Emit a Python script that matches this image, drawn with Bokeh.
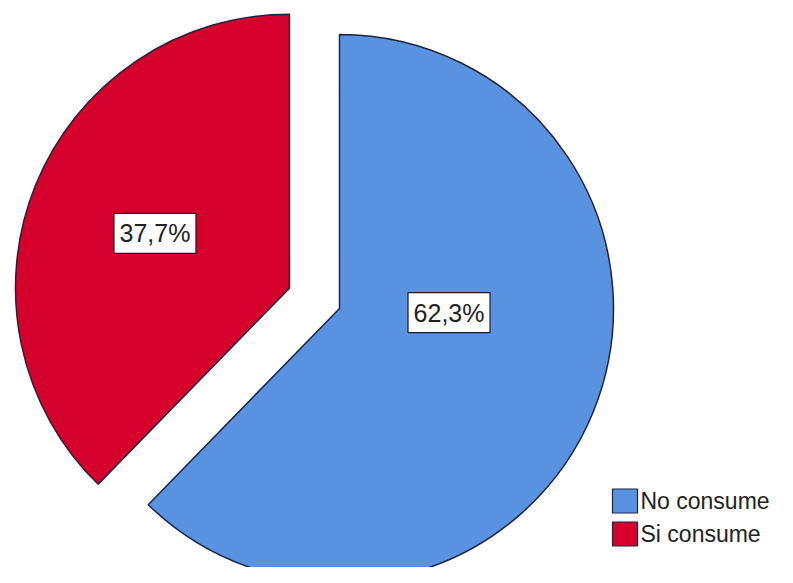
import numpy as np
from bokeh.plotting import figure
from bokeh.models import Range1d, ColumnDataSource
from bokeh.core.properties import value
from bokeh.embed import file_html
from bokeh.resources import INLINE

# ---- data ----
categories = ["No consume", "Si consume"]
percentages = [62.3, 37.7]
label_texts = ["62,3%", "37,7%"]
colors = ["#5892E0", "#D5002B"]

# ---- layout (image pixels, y measured downward) ----
W, H = 777, 567
IMG_H = 583
cx_img, cy_img = 339, 308
R = 274
explode = [0, 54]
label_dist = [0.40, 0.53]
label_angle_shift = [20.0, 0.0]  # degrees added to slice mid-angle for label placement

p = figure(width=W, height=H, output_backend="svg", toolbar_location=None,
           x_range=Range1d(0, W), y_range=Range1d(IMG_H - H, IMG_H),
           min_border=0, outline_line_color=None)
p.axis.visible = False
p.grid.visible = False
p.background_fill_color = "white"
p.border_fill_color = "white"

cx, cy = cx_img, IMG_H - cy_img

frac = np.array(percentages) / sum(percentages)
cum = np.concatenate([[0], np.cumsum(frac)])
# clockwise from 12 o'clock
start = np.pi / 2 - cum[:-1] * 2 * np.pi
end = np.pi / 2 - cum[1:] * 2 * np.pi
mid = (start + end) / 2

xs, ys, lx, ly = [], [], [], []
for i in range(len(categories)):
    ox = cx + explode[i] * np.cos(mid[i])
    oy = cy + explode[i] * np.sin(mid[i])
    xs.append(ox)
    ys.append(oy)
    a = mid[i] + np.radians(label_angle_shift[i])
    lx.append(ox + label_dist[i] * R * np.cos(a))
    ly.append(oy + label_dist[i] * R * np.sin(a))

src = ColumnDataSource(dict(x=xs, y=ys, start=start, end=end, color=colors,
                            lx=lx, ly=ly, label=label_texts, cat=categories))

p.wedge(x="x", y="y", radius=R, radius_units="screen", start_angle="start",
        end_angle="end", direction="clock", fill_color="color",
        line_color="#1f2540", line_width=1.5, source=src)

# labels with boxes
p.rect(x="lx", y="ly", width=82, height=40, width_units="screen", height_units="screen",
       fill_color="white", line_color="#1a1a2a", line_width=1.2, source=src)
p.text(x="lx", y="ly", text="label", text_align="center", text_baseline="middle",
       text_font=value("Liberation Sans"), text_font_size="25px", text_color="#222222",
       source=src)

# legend (manual)
leg_x_img = 624.5
leg_y_img = [500.5, 533.5]
leg = ColumnDataSource(dict(x=[leg_x_img] * 2, y=[IMG_H - v for v in leg_y_img],
                            tx=[640] * 2, color=colors, cat=categories))
p.rect(x="x", y="y", width=25, height=24, width_units="screen", height_units="screen",
       fill_color="color", line_color="#1f2540", line_width=1.2, source=leg)
p.text(x="tx", y="y", text="cat", text_align="left", text_baseline="middle",
       text_font=value("Liberation Sans"), text_font_size="23px", text_color="#222222",
       source=leg)

open("out.html", "w").write(file_html(p, INLINE))
